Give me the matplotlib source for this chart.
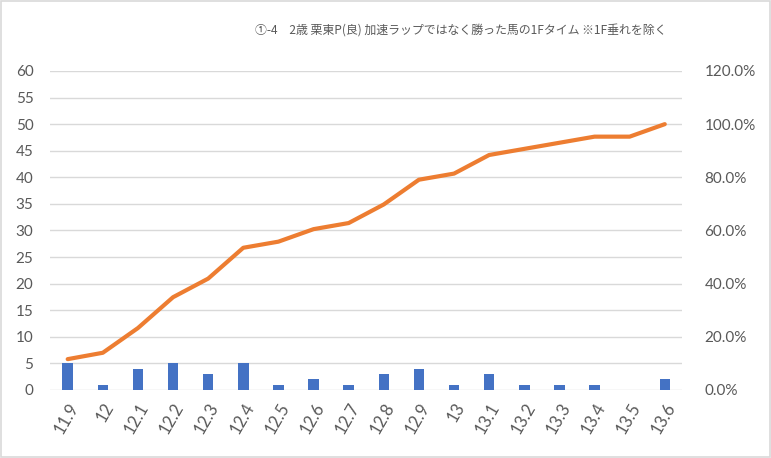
import matplotlib
matplotlib.use("Agg")
import matplotlib.pyplot as plt
from matplotlib.patches import Rectangle
from matplotlib.ticker import FuncFormatter, MultipleLocator

plt.rcParams['font.family'] = ['Noto Sans CJK JP', 'DejaVu Sans']

# data
times = ["11.9", "12", "12.1", "12.2", "12.3", "12.4", "12.5", "12.6", "12.7",
         "12.8", "12.9", "13", "13.1", "13.2", "13.3", "13.4", "13.5", "13.6"]
counts = [5, 1, 4, 5, 3, 5, 1, 2, 1, 3, 4, 1, 3, 1, 1, 1, 0, 2]
cum_pct = [11.6, 14.0, 23.3, 34.9, 41.9, 53.5, 55.8, 60.5, 62.8, 69.8,
           79.1, 81.4, 88.4, 90.7, 93.0, 95.3, 95.3, 100.0]
title = "①-4　2歳 栗東P(良) 加速ラップではなく勝った馬の1Fタイム ※1F垂れを除く"

BAR = "#4472C4"
LINE = "#ED7D31"
GRID = "#D9D9D9"
TXT = "#595959"

fig = plt.figure(figsize=(7.71, 4.58), dpi=100)
fig.patches.append(Rectangle((0.0015, 0.002), 0.997, 0.996, transform=fig.transFigure,
                             fill=False, edgecolor=GRID, linewidth=1.2))

ax = fig.add_axes([0.065, 0.1485, 0.82, 0.6965])
x = list(range(len(times)))
ax.bar(x, counts, width=0.3, color=BAR, zorder=2)
ax.set_ylim(0, 60)
ax.set_xlim(-0.5, len(times) - 0.5)
ax.yaxis.set_major_locator(MultipleLocator(5))
ax.grid(axis='y', color=GRID, linewidth=1, zorder=0)
ax.set_axisbelow(True)
for s in ax.spines.values():
    s.set_visible(False)
ax.tick_params(length=0, colors=TXT, labelsize=11)
ax.tick_params(axis='y', pad=12)
ax.tick_params(axis='x', pad=7, labelsize=12)
ax.set_xticks(x)
ax.set_xticklabels(times, rotation=60, ha='right', rotation_mode='anchor',
                   family='Lato')
for lab in ax.get_yticklabels():
    lab.set_family('Lato')

ax2 = ax.twinx()
ax2.plot(x, cum_pct, color=LINE, linewidth=3, solid_capstyle='round', zorder=3)
ax2.set_ylim(0, 120)
ax2.yaxis.set_major_locator(MultipleLocator(20))
ax2.yaxis.set_major_formatter(FuncFormatter(lambda v, p: f"{v:.1f}%"))
for s in ax2.spines.values():
    s.set_visible(False)
ax2.tick_params(length=0, colors=TXT, labelsize=11, pad=16)
for lab in ax2.get_yticklabels():
    lab.set_family('Lato')

fig.text(0.598, 0.932, title, ha='center', va='center', color=TXT, fontsize=8.6)

fig.savefig("out.png", dpi=100)
